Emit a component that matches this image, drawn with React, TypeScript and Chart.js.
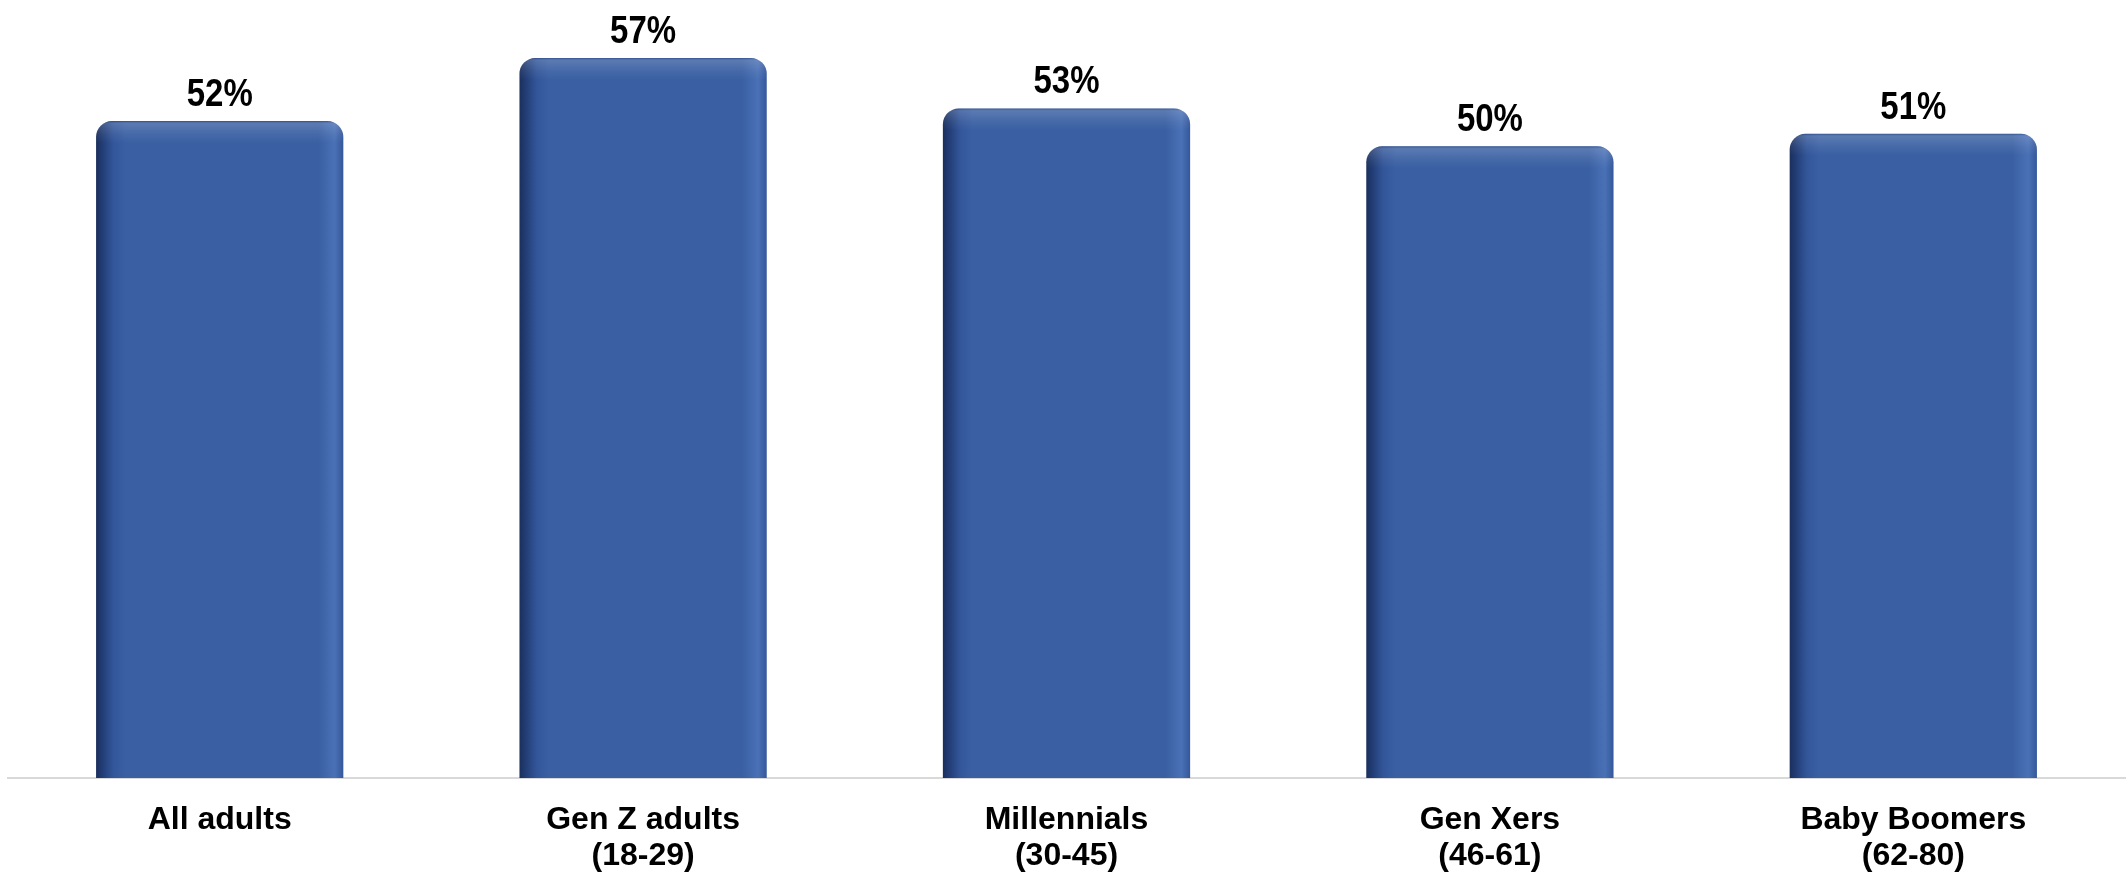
import React, { useEffect, useRef } from "react";
import { Chart, registerables } from "chart.js";

Chart.register(...registerables);

const categories: (string | string[])[] = [
  "All adults",
  ["Gen Z adults", "(18-29)"],
  ["Millennials", "(30-45)"],
  ["Gen Xers", "(46-61)"],
  ["Baby Boomers", "(62-80)"],
];
const values = [52, 57, 53, 50, 51];
const valueLabels = ["52%", "57%", "53%", "50%", "51%"];

const FONT = "'Liberation Sans', Arial, Helvetica, sans-serif";
const BAR_PCT = 0.584;

const valueLabelPlugin = {
  id: "valueLabels",
  afterDatasetsDraw(chart: any) {
    const ctx = chart.ctx;
    const meta = chart.getDatasetMeta(0);
    ctx.save();
    meta.data.forEach((el: any, i: number) => {
      const { x, y, width } = el.getProps(["x", "y", "width"], true);
      // top highlight band
      ctx.save();
      ctx.beginPath();
      (ctx as any).roundRect(x - width / 2, y, width, 40, [16, 16, 0, 0]);
      ctx.clip();
      const g = ctx.createLinearGradient(0, y, 0, y + 22);
      g.addColorStop(0, "rgba(20,40,90,0.35)");
      g.addColorStop(0.12, "rgba(255,255,255,0.16)");
      g.addColorStop(0.6, "rgba(255,255,255,0.06)");
      g.addColorStop(1, "rgba(255,255,255,0)");
      ctx.fillStyle = g;
      ctx.fillRect(x - width / 2, y, width, 22);
      ctx.restore();

      ctx.save();
      ctx.translate(x, y - 15);
      ctx.scale(1, 1.15);
      ctx.fillStyle = "#000000";
      ctx.font = `bold 33px ${FONT}`;
      ctx.textAlign = "center";
      ctx.textBaseline = "alphabetic";
      ctx.fillText(valueLabels[i], 0, 0);
      ctx.restore();
    });
    ctx.restore();
  },
};

export default function App() {
  const canvasRef = useRef<HTMLCanvasElement | null>(null);

  useEffect(() => {
    if (!canvasRef.current) return;
    const chart = new Chart(canvasRef.current, {
      type: "bar",
      data: {
        labels: categories,
        datasets: [
          {
            data: values,
            backgroundColor: (c: any) => {
              const ch = c.chart;
              const xs = ch.scales && ch.scales.x;
              if (!xs || !ch.chartArea) return "#3A60A3";
              const cx = xs.getPixelForValue(c.dataIndex);
              const w = (xs.width / categories.length) * BAR_PCT;
              const l = cx - w / 2;
              const g = ch.ctx.createLinearGradient(l, 0, l + w, 0);
              g.addColorStop(0, "#1a2f5c");
              g.addColorStop(0.025, "#223d75");
              g.addColorStop(0.07, "#33569a");
              g.addColorStop(0.12, "#3a60a3");
              g.addColorStop(0.9, "#3a60a3");
              g.addColorStop(0.965, "#4a71b6");
              g.addColorStop(1, "#34579a");
              return g;
            },
            borderWidth: 0,
            borderRadius: 16,
            borderSkipped: "start",
            categoryPercentage: 1,
            barPercentage: BAR_PCT,
          },
        ],
      },
      options: {
        responsive: false,
        animation: false,
        maintainAspectRatio: false,
        layout: { padding: { top: 20, left: 8, right: 1, bottom: 0 } },
        plugins: {
          legend: { display: false },
          tooltip: { enabled: false },
          title: { display: false },
        },
        scales: {
          x: {
            grid: { display: false },
            border: { display: true, color: "#d9d9d9", width: 2 },
            ticks: {
              color: "#000000",
              font: { family: FONT, size: 32, weight: "bold", lineHeight: 1.12 },
              padding: 16,
              maxRotation: 0,
              autoSkip: false,
            },
            afterFit: (scale: any) => {
              scale.height = 96;
            },
          },
          y: {
            display: false,
            min: 0,
            max: 60,
          },
        },
      },
      plugins: [valueLabelPlugin],
    });
    return () => chart.destroy();
  }, []);

  return (
    <div style={{ position: "fixed", left: 0, top: 0, width: 2126, height: 874, background: "#ffffff" }}>
      <canvas ref={canvasRef} width={2126} height={874} style={{ display: "block" }} />
    </div>
  );
}
